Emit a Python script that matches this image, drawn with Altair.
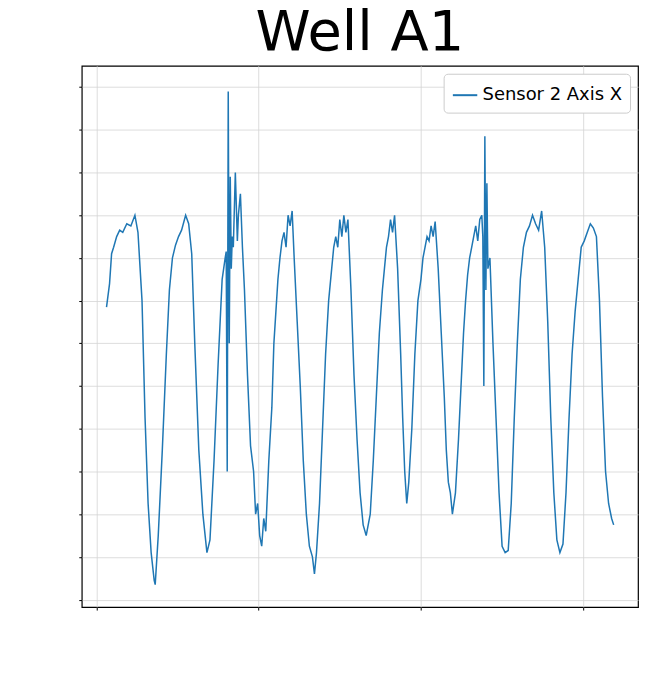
import pandas as pd
import altair as alt

# samples (time in sec, magnitude in uT)
times = [101.90, 101.93, 101.95, 101.97, 102.00, 102.03, 102.06, 102.10, 102.14, 102.18, 102.21,
         102.25, 102.28, 102.31, 102.34, 102.37, 102.38, 102.41, 102.45, 102.49, 102.52, 102.55,
         102.58, 102.61, 102.64, 102.68, 102.71, 102.74, 102.77, 102.81, 102.85, 102.89, 102.92,
         102.96, 103.00, 103.04, 103.07, 103.08, 103.09, 103.10, 103.11, 103.12, 103.13, 103.14,
         103.15, 103.17, 103.19, 103.20, 103.22, 103.24, 103.26, 103.29, 103.32, 103.35, 103.37,
         103.39, 103.41, 103.43, 103.45, 103.47, 103.50, 103.53, 103.55, 103.57, 103.59, 103.61,
         103.63, 103.65, 103.67, 103.69, 103.71, 103.73, 103.75, 103.78, 103.81, 103.84, 103.87,
         103.90, 103.93, 103.95, 103.97, 104.00, 104.03, 104.06, 104.09, 104.12, 104.14, 104.16,
         104.18, 104.20, 104.22, 104.24, 104.26, 104.28, 104.31, 104.34, 104.37, 104.40, 104.43,
         104.46, 104.48, 104.50, 104.53, 104.56, 104.59, 104.62, 104.64, 104.66, 104.68, 104.70,
         104.72, 104.74, 104.77, 104.80, 104.82, 104.84, 104.86, 104.88, 104.91, 104.94, 104.97,
         105.00, 105.02, 105.04, 105.06, 105.08, 105.10, 105.12, 105.14, 105.17, 105.20, 105.23,
         105.25, 105.27, 105.29, 105.31, 105.34, 105.37, 105.40, 105.42, 105.44, 105.46, 105.48,
         105.50, 105.52, 105.54, 105.56, 105.58, 105.60, 105.61, 105.62, 105.63, 105.64, 105.65,
         105.66, 105.68, 105.71, 105.74, 105.77, 105.80, 105.83, 105.86, 105.89, 105.92, 105.95,
         105.98, 106.01, 106.04, 106.07, 106.10, 106.13, 106.16, 106.19, 106.22, 106.25, 106.28,
         106.31, 106.34, 106.37, 106.40, 106.43, 106.46, 106.49, 106.52, 106.55, 106.58, 106.61,
         106.64, 106.67, 106.70, 106.73, 106.76, 106.79, 106.82, 106.85, 106.88, 106.90]
values = [32.27, 32.38, 32.52, 32.55, 32.60, 32.63, 32.62, 32.66, 32.65, 32.70, 32.62,
          32.30, 31.75, 31.35, 31.12, 30.99, 30.97, 31.20, 31.60, 32.05, 32.35, 32.50,
          32.56, 32.60, 32.63, 32.70, 32.66, 32.52, 32.10, 31.60, 31.30, 31.12, 31.18,
          31.55, 32.00, 32.40, 32.50, 32.53, 31.50, 33.28, 32.10, 32.88, 32.45, 32.60,
          32.55, 32.90, 32.58, 32.70, 32.80, 32.55, 32.35, 31.95, 31.62, 31.50, 31.30,
          31.35, 31.20, 31.15, 31.28, 31.22, 31.55, 31.80, 32.10, 32.25, 32.40, 32.50,
          32.58, 32.62, 32.55, 32.70, 32.65, 32.72, 32.50, 32.20, 31.90, 31.55, 31.30,
          31.15, 31.10, 31.02, 31.12, 31.35, 31.70, 32.05, 32.30, 32.45, 32.55, 32.60,
          32.55, 32.68, 32.60, 32.70, 32.62, 32.68, 32.35, 31.95, 31.65, 31.40, 31.25,
          31.20, 31.25, 31.30, 31.55, 31.85, 32.15, 32.35, 32.45, 32.55, 32.60, 32.68,
          32.62, 32.70, 32.45, 32.05, 31.75, 31.50, 31.35, 31.45, 31.70, 32.05, 32.30,
          32.40, 32.50, 32.55, 32.60, 32.58, 32.65, 32.60, 32.67, 32.45, 32.15, 31.85,
          31.60, 31.45, 31.40, 31.30, 31.40, 31.65, 31.95, 32.15, 32.30, 32.42, 32.50,
          32.55, 32.60, 32.65, 32.58, 32.68, 32.70, 32.60, 31.90, 33.07, 32.35, 32.85,
          32.45, 32.50, 32.10, 31.75, 31.40, 31.15, 31.12, 31.13, 31.35, 31.75, 32.10,
          32.40, 32.55, 32.62, 32.65, 32.70, 32.66, 32.63, 32.72, 32.55, 32.20, 31.75,
          31.40, 31.18, 31.12, 31.16, 31.40, 31.75, 32.05, 32.25, 32.40, 32.55, 32.58,
          32.62, 32.66, 32.64, 32.60, 32.30, 31.85, 31.50, 31.35, 31.28, 31.25]
series = "Sensor 2 Axis X"

x_major = [102, 103, 104, 105, 106, 107]
x_minor = [round(101.8 + 0.2 * i, 1) for i in range(28)]
y_major = [31.0, 31.5, 32.0, 32.5, 33.0]
y_minor = [round(30.9 + 0.1 * i, 1) for i in range(25)]

n = min(len(times), len(values))
df = pd.DataFrame({"t": times[:n], "v": values[:n], "series": series})
xs = alt.Scale(domain=[101.656, 107.14], nice=False, zero=False)
ys = alt.Scale(domain=[30.865, 33.40], nice=False, zero=False)

base = alt.Chart(df)

minor = base.mark_line(opacity=0).encode(
    x=alt.X("t:Q", scale=xs, title=None,
            axis=alt.Axis(values=x_minor, labels=False, grid=True, gridColor="#d4d4d4",
                          gridWidth=0.8, tickSize=3, tickColor="black", domain=False)),
    y=alt.Y("v:Q", scale=ys, title=None,
            axis=alt.Axis(values=y_minor, labels=False, grid=True, gridColor="#d4d4d4",
                          gridWidth=0.8, tickSize=3, tickColor="black", domain=False)),
)

major = base.mark_line(opacity=0).encode(
    x=alt.X("t:Q", scale=xs, title="Time (sec)",
            axis=alt.Axis(values=x_major, format="d", grid=True, gridColor="#b0b0b0",
                          gridWidth=1.6, tickSize=6, tickColor="black", domain=False,
                          labelFontSize=18, titleFontSize=28, titleFontWeight="normal",
                          labelPadding=4, titlePadding=6)),
    y=alt.Y("v:Q", scale=ys, title="Magnitude (uT)",
            axis=alt.Axis(values=y_major, format=".1f", grid=True, gridColor="#b0b0b0",
                          gridWidth=1.6, tickSize=6, tickColor="black", domain=False,
                          labelFontSize=18, titleFontSize=18, titleFontWeight="normal",
                          labelPadding=4, titlePadding=10)),
)

line = base.mark_line(strokeWidth=1.5).encode(
    x=alt.X("t:Q", scale=xs),
    y=alt.Y("v:Q", scale=ys),
    color=alt.Color("series:N", scale=alt.Scale(range=["#1f77b4"]),
                    legend=alt.Legend(title=None, orient="top-right", symbolType="stroke",
                                      symbolSize=600, symbolStrokeWidth=2, labelFontSize=18,
                                      fillColor="white", strokeColor="#cccccc", padding=8,
                                      cornerRadius=4, offset=8)),
)

chart = alt.layer(minor, major, line).properties(
    width=558, height=543,
    title=alt.TitleParams("Well A1", fontSize=56, fontWeight="normal", offset=4),
    padding={"left": 74, "top": 57, "right": 5, "bottom": 5},
    autosize=alt.AutoSizeParams(type="none"),
).configure(font="DejaVu Sans").configure_view(stroke="black", strokeWidth=1.2).configure_axis(
    labelColor="black", titleColor="black", labelFont="DejaVu Sans", titleFont="DejaVu Sans"
)

chart.save("out.html", embed_options={"renderer": "svg", "actions": False})
